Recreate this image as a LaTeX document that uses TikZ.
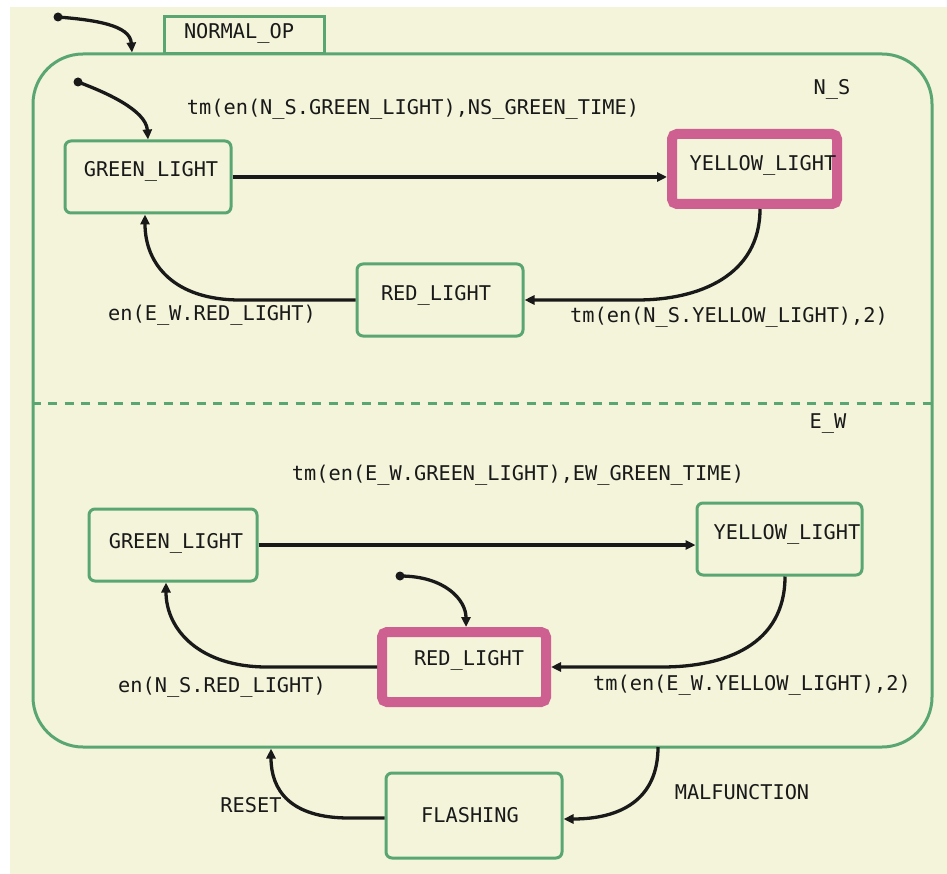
\documentclass[tikz,border=0pt]{standalone}
\usepackage{fontspec}
\newfontfamily\monofnt{DejaVu Sans Mono}
\usetikzlibrary{arrows.meta,calc}
\definecolor{cream}{RGB}{244,244,219}
\definecolor{sgreen}{RGB}{90,166,114}
\definecolor{spink}{RGB}{205,96,144}
\definecolor{ink}{RGB}{25,25,25}
\begin{document}
\begin{tikzpicture}[x=1pt,y=-1pt,
  state/.style={draw=sgreen,line width=3pt,rounded corners=6pt,inner sep=0pt,fill=cream},
  active/.style={draw=spink,line width=10pt,rounded corners=5pt,inner sep=0pt,fill=cream},
  arr/.style={draw=ink,line width=3.3pt,-{Triangle[length=10pt,width=9pt]}},
  lbl/.style={font=\monofnt\fontsize{20.3}{24}\selectfont,text=ink,inner sep=0pt},
  dotst/.style={circle,fill=ink,inner sep=0pt,minimum size=9pt}]
\useasboundingbox (0,0) rectangle (947,874);
\fill[white] (0,0) rectangle (947,874);
\fill[cream] (10,7) rectangle (947,874);
% containers
\node[draw=sgreen,line width=3pt,rounded corners=50pt,inner sep=0pt,
      minimum width=899pt,minimum height=693pt] (outer) at (482.5,400.5) {};
\node[draw=sgreen,line width=3pt,fill=cream,inner sep=0pt,
      minimum width=160pt,minimum height=37pt] (tab) at (244,35.5) {};
\node[lbl] (tabt) at (239,33) {NORMAL\_OP};
\draw[sgreen,line width=3pt,dash pattern=on 9pt off 7.5pt] (outer.west |- 0,403) coordinate (dl) -- (outer.east |- 0,403) coordinate (dr);
\node[lbl] (nsl) at (832,89) {N\_S};
\node[lbl] (ewl) at (828,423) {E\_W};
% N_S states
\node[state,minimum width=166pt,minimum height=72pt] (nsG) at (148,177) {};
\node[active,minimum width=165pt,minimum height=70pt] (nsY) at (754.5,169) {};
\node[state,minimum width=166pt,minimum height=72pt] (nsR) at (440,300) {};
\node[lbl] at (151,171) {GREEN\_LIGHT};
\node[lbl] at (763,165) {YELLOW\_LIGHT};
\node[lbl] at (436,295) {RED\_LIGHT};
% E_W states
\node[state,minimum width=168pt,minimum height=72pt] (ewG) at (173,545) {};
\node[state,minimum width=165pt,minimum height=72pt] (ewY) at (779.5,539) {};
\node[active,minimum width=164pt,minimum height=70pt] (ewR) at (464,667) {};
\node[lbl] at (176,543) {GREEN\_LIGHT};
\node[lbl] at (787,534) {YELLOW\_LIGHT};
\node[lbl] at (469,660) {RED\_LIGHT};
% FLASHING
\node[state,minimum width=176pt,minimum height=85pt] (fl) at (474,815.5) {};
\node[lbl] at (470,815) {FLASHING};
% initial transitions
\node[dotst] (d0) at (58,17) {};
\draw[arr] (d0.center) .. controls (95,20) and (130,25) .. (132,52.5) coordinate (oT);
\node[dotst] (d1) at (78,82) {};
\draw[arr] (d1.center) .. controls (105,92) and (146,110) .. (nsG.north);
\node[dotst] (d2) at (400,576) {};
\draw[arr] (d2.center) .. controls (445,576) and (466,600) .. ([xshift=2pt]ewR.north);
% N_S transitions
\draw[arr] (nsG.east) -- (nsG.east -| nsY.west);
\draw[arr] ([xshift=5.5pt]nsY.south) .. controls (760,275) and (700,300) .. (637,300) -- (nsR.east);
\draw[arr] (nsR.west) -- (240,300) .. controls (175,300) and (145,265) .. ([xshift=-3pt]nsG.south);
\node[lbl] at (413,109) {tm(en(N\_S.GREEN\_LIGHT),NS\_GREEN\_TIME)};
\node[lbl] at (729,317) {tm(en(N\_S.YELLOW\_LIGHT),2)};
\node[lbl] at (212,315) {en(E\_W.RED\_LIGHT)};
% E_W transitions
\draw[arr] (ewG.east) -- (ewG.east -| ewY.west);
\draw[arr] ([xshift=5.5pt]ewY.south) .. controls (785,645) and (725,667) .. (662,667) -- (ewR.east);
\draw[arr] (ewR.west) -- (267,667) .. controls (200,667) and (166,630) .. ([xshift=-7pt]ewG.south);
\node[lbl] at (518,475) {tm(en(E\_W.GREEN\_LIGHT),EW\_GREEN\_TIME)};
\node[lbl] at (752,685) {tm(en(E\_W.YELLOW\_LIGHT),2)};
\node[lbl] at (222,687) {en(N\_S.RED\_LIGHT)};
% outer transitions
\coordinate (rT) at (271,748.5);
\coordinate (mT) at (658,747);
\draw[arr] ([yshift=-2.5pt]fl.west) -- (349,818) .. controls (290,818) and (271,790) .. (rT);
\draw[arr] (mT) .. controls (658,800) and (620,819) .. ([yshift=-3.5pt]fl.east);
\node[lbl] at (251,805) {RESET};
\node[lbl] at (742,792) {MALFUNCTION};
\end{tikzpicture}
\end{document}
